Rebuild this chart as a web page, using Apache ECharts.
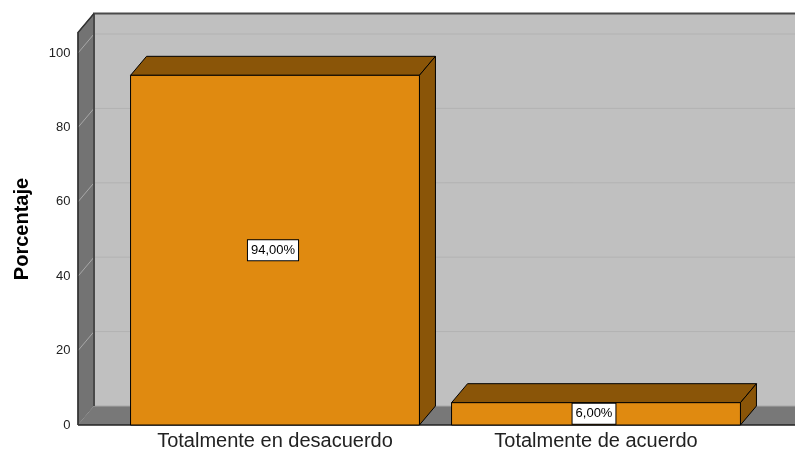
<!DOCTYPE html>
<html>
<head>
<meta charset="utf-8">
<script src="https://cdn.jsdelivr.net/npm/echarts@6/dist/echarts.min.js"></script>
<style>
  html, body { margin: 0; padding: 0; background: #fff; }
  #chart { width: 795px; height: 451px; }
</style>
</head>
<body>
<div id="chart"></div>
<script>
// categorias y porcentajes
const categories = ['Totalmente en desacuerdo', 'Totalmente de acuerdo']
const percents = [94, 6]
const yTicks = [0, 20, 40, 60, 80, 100]

// profundidad del efecto 3D
const DX = 16
const DY = -19
const WALL_TOP = 105.5

const fmt = (v) => v.toFixed(2).replace('.', ',') + '%'

function renderWalls(params, api) {
  const cs = params.coordSys
  const fx = cs.x - 36.5
  const rx = cs.x + cs.width + 40
  const y0 = api.coord([0, 0])[1]
  const yTop = api.coord([0, WALL_TOP])[1]
  const children = []
  // pared del fondo
  children.push({
    type: 'rect',
    shape: { x: fx + DX, y: yTop + DY, width: rx - fx, height: y0 - yTop },
    style: { fill: '#c0c0c0' },
  })
  // lineas de cuadricula
  yTicks.forEach((t) => {
    const y = api.coord([0, t])[1]
    if (t > 0) {
      children.push({
        type: 'line',
        shape: { x1: fx + DX, y1: y + DY, x2: rx + DX, y2: y + DY },
        style: { stroke: '#b2b2b2', lineWidth: 1 },
      })
    }
  })
  // pared izquierda
  children.push({
    type: 'polygon',
    shape: { points: [[fx, y0], [fx, yTop], [fx + DX, yTop + DY], [fx + DX, y0 + DY]] },
    style: { fill: '#737373', stroke: '#333', lineWidth: 1 },
  })
  yTicks.forEach((t) => {
    const y = api.coord([0, t])[1]
    children.push({
      type: 'line',
      shape: { x1: fx, y1: y, x2: fx + DX, y2: y + DY },
      style: { stroke: '#a8a8a8', lineWidth: 1 },
    })
  })
  // suelo
  children.push({
    type: 'polygon',
    shape: { points: [[fx, y0], [rx - 2, y0], [rx + DX, y0 + DY], [fx + DX, y0 + DY]] },
    style: { fill: '#787878' },
  })
  children.push({
    type: 'line',
    shape: { x1: fx + DX, y1: y0 + DY, x2: rx + DX, y2: y0 + DY },
    style: { stroke: '#a8a8a8', lineWidth: 1 },
  })
  children.push({
    type: 'line',
    shape: { x1: fx, y1: y0, x2: rx, y2: y0 },
    style: { stroke: '#222', lineWidth: 1.5 },
  })
  // bordes oscuros
  children.push({
    type: 'polyline',
    shape: { points: [[fx + DX, y0 + DY], [fx + DX, yTop + DY], [rx + DX, yTop + DY]] },
    style: { stroke: '#4a4a4a', lineWidth: 2, fill: null },
  })
  children.push({
    type: 'polyline',
    shape: { points: [[fx, y0], [fx, yTop], [fx + DX, yTop + DY]] },
    style: { stroke: '#333', lineWidth: 1.5, fill: null },
  })
  return { type: 'group', children }
}

function renderBar(params, api) {
  const x = api.value(0)
  const v = api.value(1)
  const base = api.coord([x, 0])
  const top = api.coord([x, v])
  const w = api.size([1, 0])[0] * 0.9
  const L = base[0] - w / 2
  const R = base[0] + w / 2
  const yB = base[1]
  const yT = top[1]
  const edge = { stroke: '#000', lineWidth: 1 }
  return {
    type: 'group',
    children: [
      {
        type: 'polygon',
        shape: { points: [[L, yT], [L + DX, yT + DY], [R + DX, yT + DY], [R, yT]] },
        style: Object.assign({ fill: '#8a5508' }, edge),
      },
      {
        type: 'polygon',
        shape: { points: [[R, yT], [R + DX, yT + DY], [R + DX, yB + DY], [R, yB]] },
        style: Object.assign({ fill: '#8a5508' }, edge),
      },
      {
        type: 'rect',
        shape: { x: L, y: yT, width: w, height: yB - yT },
        style: Object.assign({ fill: '#e08a10' }, edge),
      },
      {
        type: 'text',
        x: base[0] - 2,
        y: (yT + yB) / 2,
        style: {
          text: fmt(v),
          fontFamily: 'Liberation Sans, Arial, sans-serif',
          fontSize: 13,
          fill: '#000',
          align: 'center',
          verticalAlign: 'middle',
          backgroundColor: '#fff',
          borderColor: '#000',
          borderWidth: 1,
          padding: [4, 3, 3, 3],
        },
      },
    ],
  }
}

const chart = echarts.init(document.getElementById('chart'))
chart.setOption({
  animation: false,
  backgroundColor: '#fff',
  grid: { left: 114.5, right: 38.5, top: 53, bottom: 26 },
  xAxis: {
    type: 'category',
    data: categories,
    axisLine: { show: false },
    axisTick: { show: false },
    axisLabel: {
      margin: 6,
      fontSize: 20,
      color: '#222',
      fontFamily: 'Liberation Sans, Arial, sans-serif',
    },
  },
  yAxis: {
    type: 'value',
    min: 0,
    max: 100,
    interval: 20,
    axisLine: { show: false },
    axisTick: { show: false },
    splitLine: { show: false },
    axisLabel: {
      margin: 44,
      fontSize: 13,
      color: '#222',
      fontFamily: 'Liberation Sans, Arial, sans-serif',
    },
  },
  graphic: [
    {
      type: 'text',
      x: 22,
      y: 229,
      rotation: Math.PI / 2,
      style: {
        text: 'Porcentaje',
        fontFamily: 'Liberation Sans, Arial, sans-serif',
        fontSize: 20,
        fontWeight: 'bold',
        fill: '#000',
        align: 'center',
        verticalAlign: 'middle',
      },
    },
  ],
  series: [
    {
      type: 'custom',
      renderItem: renderWalls,
      data: [[0, 0]],
      silent: true,
      z: 1,
    },
    {
      type: 'custom',
      renderItem: renderBar,
      data: percents.map((p, i) => [i, p]),
      z: 2,
    },
  ],
})
</script>
</body>
</html>
